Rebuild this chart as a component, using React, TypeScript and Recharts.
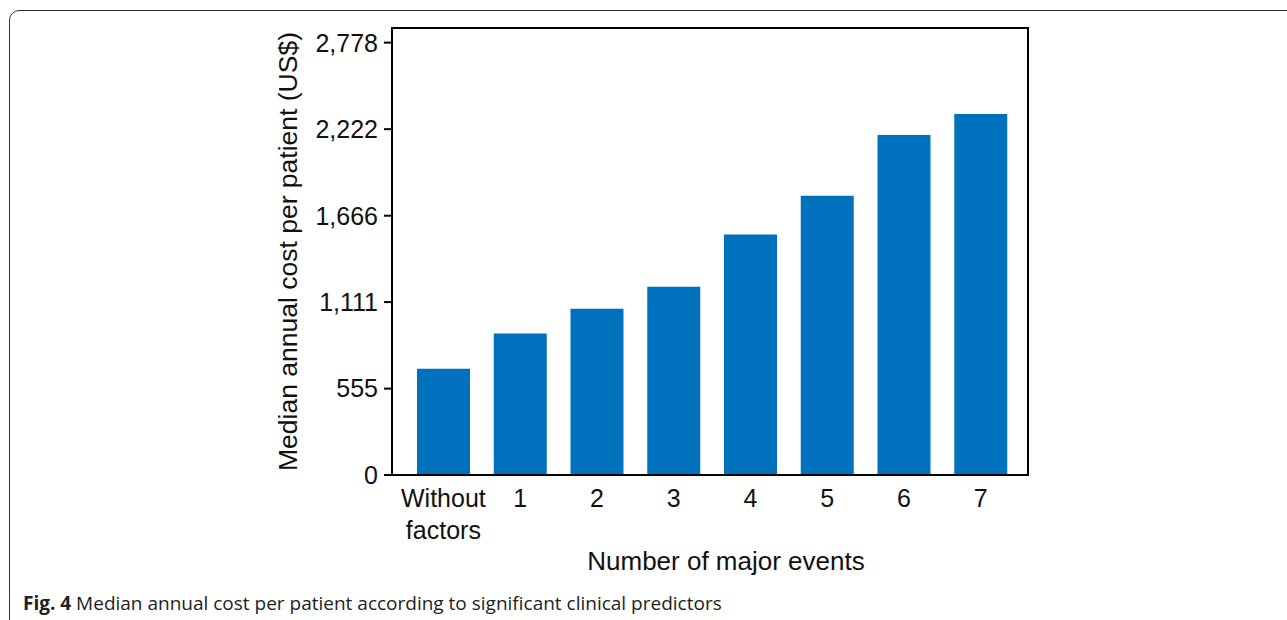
import React from "react";
import { BarChart, Bar, XAxis, YAxis, Label } from "recharts";

// median annual cost per patient by number of major events
const categories = ["Without factors", "1", "2", "3", "4", "5", "6", "7"];
const medianCost = [682, 909, 1068, 1209, 1546, 1794, 2185, 2320];
const yTicks = [0, 555, 1111, 1666, 2222, 2778];

const data = categories.map((name, i) => ({ name, cost: medianCost[i] }));

const FONT = "'Liberation Sans', Arial, Helvetica, sans-serif";

function XTick({ x, y, payload }: any) {
  const lines = String(payload.value).split(" ");
  return (
    <text x={x} y={y} textAnchor="middle" fontFamily={FONT} fontSize={25} fill="#111">
      {lines.map((line, i) => (
        <tspan key={i} x={x} dy={32}>
          {line}
        </tspan>
      ))}
    </text>
  );
}

export default function App() {
  return (
    <div
      style={{
        position: "absolute",
        left: 0,
        top: 0,
        width: 1287,
        height: 620,
        overflow: "hidden",
        background: "#fff",
      }}
    >
      {/* figure frame */}
      <div
        style={{
          position: "absolute",
          left: 9,
          top: 10,
          width: 1320,
          height: 640,
          border: "1.5px solid #333",
          borderRadius: 10,
          boxSizing: "border-box",
        }}
      />
      <div style={{ position: "absolute", left: 0, top: 0 }}>
        <BarChart
          width={1287}
          height={620}
          data={data}
          margin={{ top: 28, right: 259, left: 272, bottom: 50 }}
        >
          <XAxis
            dataKey="name"
            type="category"
            height={95}
            padding={{ left: 13, right: 9 }}
            tickLine={false}
            tickSize={0}
            tickMargin={0}
            interval={0}
            axisLine={{ stroke: "#000", strokeWidth: 2 }}
            tick={<XTick />}
          >
            <Label
              value="Number of major events"
              position="insideBottom"
              offset={0}
              dx={16}
              fontFamily={FONT}
              fontSize={26}
              fill="#111"
            />
          </XAxis>
          <YAxis
            width={120}
            domain={[0, 2872]}
            ticks={yTicks}
            interval={0}
            tickSize={8}
            tickMargin={6}
            tickFormatter={(v) => Number(v).toLocaleString("en-US")}
            tick={{ fontFamily: FONT, fontSize: 25, fill: "#111" }}
            tickLine={{ stroke: "#000", strokeWidth: 2 }}
            axisLine={{ stroke: "#000", strokeWidth: 2 }}
          >
            <Label
              value="Median annual cost per patient (US$)"
              angle={-90}
              position="center"
              dx={-44}
              fontFamily={FONT}
              fontSize={26.5}
              fill="#111"
            />
          </YAxis>
          <Bar dataKey="cost" fill="#0071bc" barSize={53} isAnimationActive={false} />
        </BarChart>
      </div>
      {/* plot box (top and right edges) */}
      <div
        style={{
          position: "absolute",
          left: 391,
          top: 27,
          width: 638,
          height: 449,
          border: "2px solid #000",
          boxSizing: "border-box",
          pointerEvents: "none",
        }}
      />
      <div
        style={{
          position: "absolute",
          left: 23,
          top: 590,
          fontFamily: "'Open Sans', sans-serif",
          fontSize: 19,
          lineHeight: "26px",
          color: "#222",
          whiteSpace: "nowrap",
        }}
      >
        <b>Fig. 4</b> Median annual cost per patient according to significant clinical predictors
      </div>
    </div>
  );
}
